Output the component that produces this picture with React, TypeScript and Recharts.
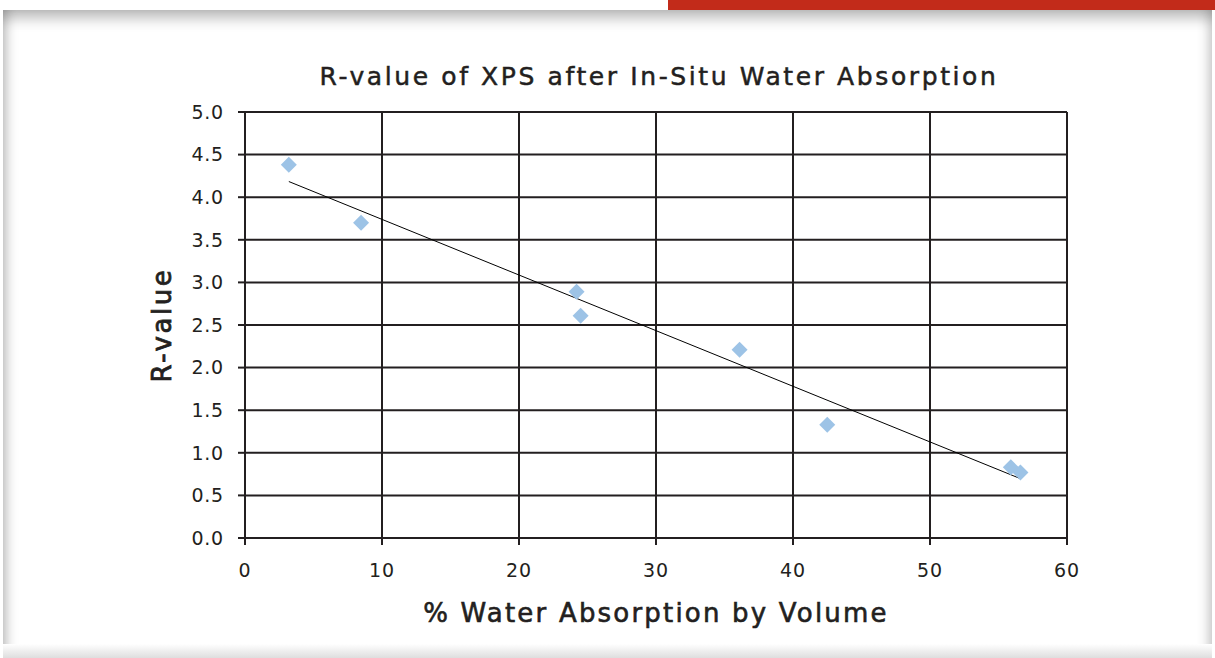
import React from 'react';
import { ScatterChart, Scatter, XAxis, YAxis, CartesianGrid, Label } from 'recharts';

const absorption = [3.2, 8.47, 24.2, 24.5, 36.1, 42.5, 55.9, 56.6];
const rValues = [4.38, 3.7, 2.89, 2.61, 2.21, 1.33, 0.83, 0.77];
const xTicks = [0, 10, 20, 30, 40, 50, 60];
const yTicks = [0, 0.5, 1, 1.5, 2, 2.5, 3, 3.5, 4, 4.5, 5];

const points = absorption.map((x, i) => ({ x, y: rValues[i] }));

// least-squares trend line (as drawn by the spreadsheet)
const n = absorption.length;
const mx = absorption.reduce((a, b) => a + b, 0) / n;
const my = rValues.reduce((a, b) => a + b, 0) / n;
let sxy = 0, sxx = 0;
absorption.forEach((x, i) => { sxy += (x - mx) * (rValues[i] - my); sxx += (x - mx) * (x - mx); });
const slope = sxy / sxx;
const xMin = Math.min(...absorption);
const xMax = Math.max(...absorption);
const trend = [
  { x: xMin, y: my + slope * (xMin - mx) },
  { x: xMax, y: my + slope * (xMax - mx) },
];

const FONT = "'DejaVu Sans', 'Open Sans', sans-serif";
const TEXT = '#231f20';

const Diamond = (props: any) => {
  const { cx, cy } = props;
  const r = 8;
  return <polygon points={`${cx},${cy - r} ${cx + r},${cy} ${cx},${cy + r} ${cx - r},${cy}`} fill="#9dc3e6" />;
};
const NoMark = () => <g />;

export default function App() {
  return (
    <div style={{ position: 'absolute', left: 0, top: 0, width: 1215, height: 658, background: '#fff', overflow: 'hidden', fontFamily: FONT }}>
      <div style={{ position: 'absolute', left: 668, top: 0, width: 547, height: 10, background: '#c22b1a' }} />
      <div style={{ position: 'absolute', left: 3, top: 10, width: 1209, height: 660, background: '#fff', boxShadow: 'inset 0 14px 14px -6px rgba(0,0,0,0.28), inset 12px 0 12px -8px rgba(0,0,0,0.22), inset -12px 0 12px -8px rgba(0,0,0,0.18)' }} />
      <div style={{ position: 'absolute', left: 3, top: 644, width: 1209, height: 14, background: 'linear-gradient(#ffffff, #dedede)' }} />
      <div style={{ position: 'absolute', left: 0, top: 60, width: 1318, textAlign: 'center', fontSize: 25, letterSpacing: 2.6, color: TEXT, fontFamily: FONT, lineHeight: '34px', WebkitTextStroke: '0.5px #231f20' } as any}>
        R-value of XPS after In-Situ Water Absorption
      </div>
      <div style={{ position: 'absolute', left: 0, top: 0 }}>
        <ScatterChart width={1215} height={658} margin={{ top: 112, right: 148, bottom: 0, left: 145 }}>
          <CartesianGrid stroke="#231f20" strokeWidth={2} horizontalValues={yTicks} verticalValues={xTicks} />
          <XAxis
            type="number"
            dataKey="x"
            domain={[0, 60]}
            ticks={xTicks}
            interval={0}
            axisLine={{ stroke: '#231f20', strokeWidth: 2 }}
            tickLine={{ stroke: '#231f20', strokeWidth: 2 }}
            tickSize={7}
            tickMargin={19}
            tick={{ fill: TEXT, fontSize: 19, fontFamily: FONT, letterSpacing: 0.8 }}
            height={120}
          >
            <Label value="% Water Absorption by Volume" position="insideTop" offset={66} style={{ fill: TEXT, stroke: TEXT, strokeWidth: 0.6, fontSize: 26, letterSpacing: 2.2, fontFamily: FONT }} />
          </XAxis>
          <YAxis
            type="number"
            dataKey="y"
            domain={[0, 5]}
            ticks={yTicks}
            interval={0}
            tickFormatter={(v: number) => v.toFixed(1)}
            axisLine={{ stroke: '#231f20', strokeWidth: 2 }}
            tickLine={{ stroke: '#231f20', strokeWidth: 2 }}
            tickSize={7}
            tickMargin={14}
            tick={{ fill: TEXT, fontSize: 19, fontFamily: FONT, letterSpacing: 0.8 }}
            width={100}
          >
            <Label value="R-value" angle={-90} position="insideLeft" offset={17} style={{ fill: TEXT, stroke: TEXT, strokeWidth: 0.8, fontSize: 26, letterSpacing: 2.6, fontFamily: FONT, textAnchor: 'middle' }} />
          </YAxis>
          <Scatter data={trend} line={{ stroke: '#000', strokeWidth: 1 }} shape={NoMark} isAnimationActive={false} />
          <Scatter data={points} shape={Diamond} isAnimationActive={false} />
        </ScatterChart>
      </div>
    </div>
  );
}
